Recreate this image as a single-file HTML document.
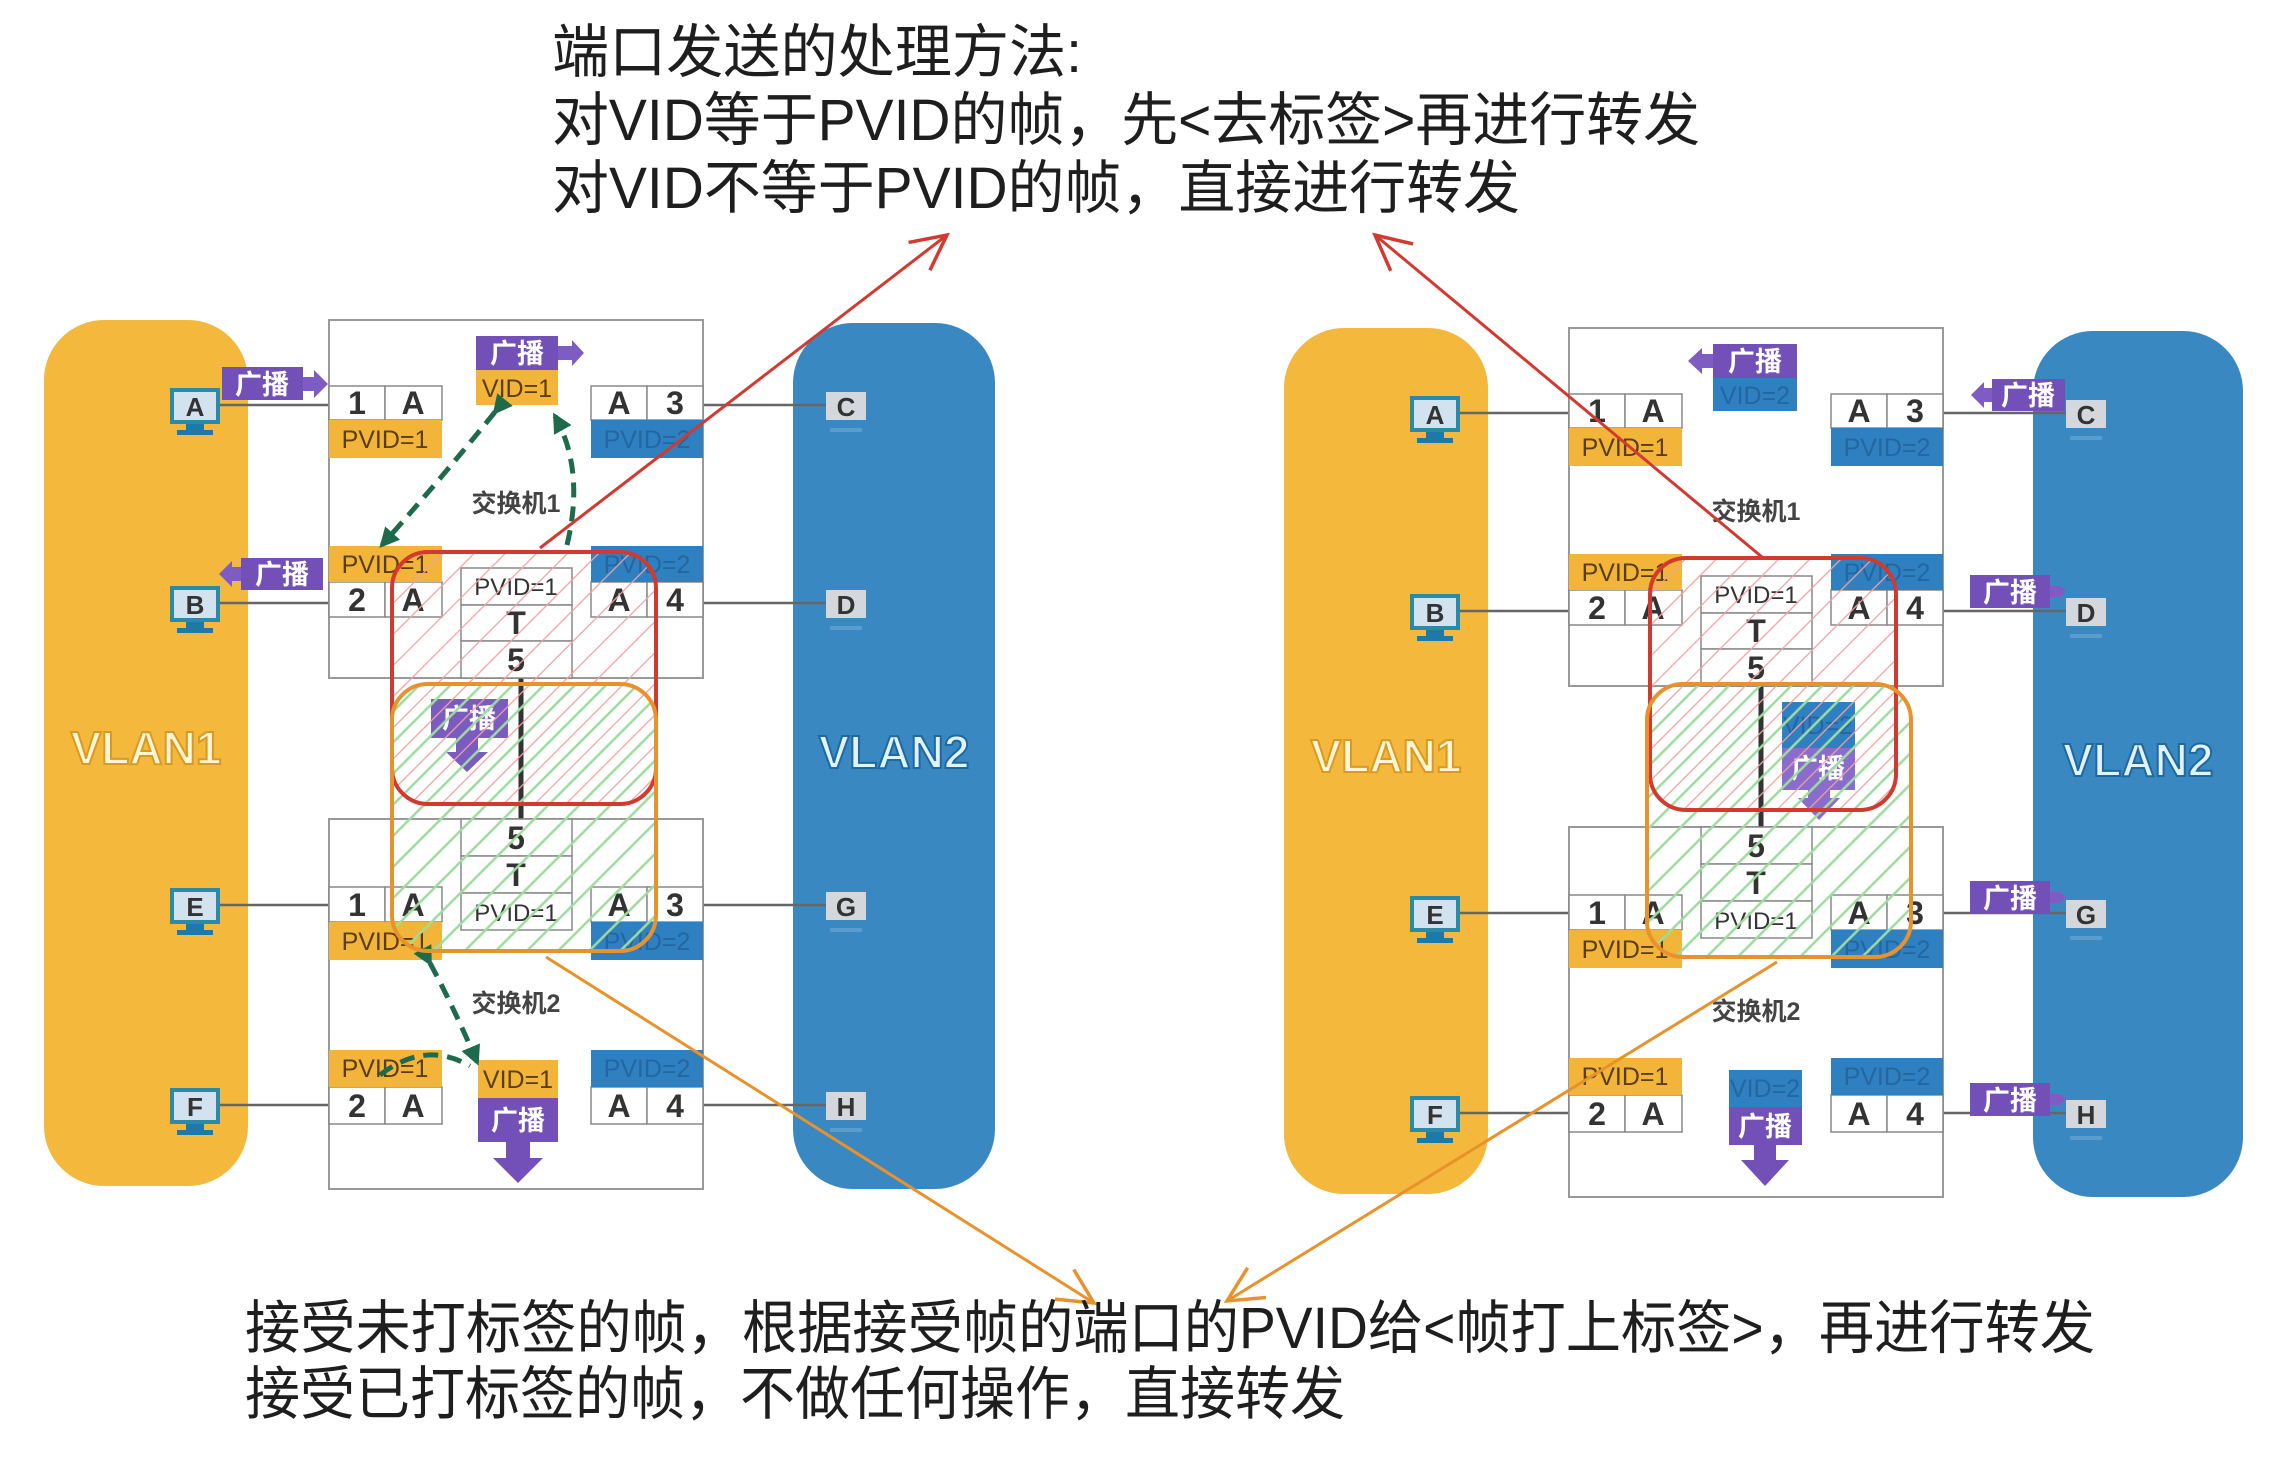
<!DOCTYPE html>
<html><head><meta charset="utf-8"><style>
html,body{margin:0;padding:0;background:#fff;}
svg{display:block;}
text{font-family:"Liberation Sans","Noto Sans CJK SC",sans-serif;}
.c{font-size:32px;font-weight:bold;fill:#333;text-anchor:middle;}
.py{font-size:25px;fill:#5a3e10;text-anchor:middle;}
.pb{font-size:25px;fill:#2466a0;text-anchor:middle;}
.pc{font-size:24px;fill:#333;text-anchor:middle;}
.bc{font-size:27px;font-weight:bold;fill:#fff;text-anchor:middle;}
.sw{font-size:25px;font-weight:bold;fill:#444;text-anchor:middle;}
.ml{font-size:26px;font-weight:bold;fill:#333;text-anchor:middle;}
.big{font-size:58px;fill:#1e1e1e;font-family:"Liberation Sans","Noto Sans CJK SC",sans-serif;}
</style></head><body>
<svg width="2278" height="1474" viewBox="0 0 2278 1474" xmlns="http://www.w3.org/2000/svg">
<defs>
<pattern id="hr" width="22" height="22" patternUnits="userSpaceOnUse" patternTransform="rotate(45)"><line x1="0" y1="0" x2="0" y2="22" stroke="#f3a0a0" stroke-width="2.5"/></pattern>
<pattern id="hg" width="22" height="22" patternUnits="userSpaceOnUse" patternTransform="rotate(45)"><line x1="11" y1="0" x2="11" y2="22" stroke="#9edc9e" stroke-width="2.5"/></pattern>
<marker id="ar" viewBox="0 0 12 12" markerWidth="42" markerHeight="42" refX="11" refY="6" orient="auto" markerUnits="userSpaceOnUse"><path d="M1,1 L11,6 L1,11" fill="none" stroke="#d23a30" stroke-width="1"/></marker>
<marker id="ao" viewBox="0 0 12 12" markerWidth="42" markerHeight="42" refX="11" refY="6" orient="auto" markerUnits="userSpaceOnUse"><path d="M1,1 L11,6 L1,11" fill="none" stroke="#e8922c" stroke-width="1"/></marker>
<marker id="ag" viewBox="0 0 10 10" markerWidth="20" markerHeight="20" refX="8" refY="5" orient="auto" markerUnits="userSpaceOnUse"><path d="M0,0 L10,5 L0,10 Z" fill="#1d6b4a"/></marker>
</defs>

<!-- ================= LEFT DIAGRAM ================= -->
<g>
<rect x="44" y="320" width="204" height="866" rx="60" fill="#f4b83c"/>
<text x="146" y="764" font-size="46" font-weight="bold" fill="#fff6d8" stroke="#d99a22" stroke-width="2" text-anchor="middle">VLAN1</text>
<rect x="793" y="323" width="202" height="866" rx="60" fill="#3a88c2"/>
<text x="894" y="768" font-size="46" font-weight="bold" fill="#e2f2ff" stroke="#1e6aa0" stroke-width="2" text-anchor="middle">VLAN2</text>

<g stroke="#666" stroke-width="2.5">
<line x1="219" y1="405" x2="329" y2="405"/><line x1="219" y1="603" x2="329" y2="603"/>
<line x1="219" y1="905" x2="329" y2="905"/><line x1="219" y1="1105" x2="329" y2="1105"/>
<line x1="703" y1="405" x2="828" y2="405"/><line x1="703" y1="603" x2="828" y2="603"/>
<line x1="703" y1="905" x2="828" y2="905"/><line x1="703" y1="1105" x2="828" y2="1105"/>
</g>
<g>
<rect x="172" y="390" width="46" height="32" fill="#d2e2ee" stroke="#2a8aa8" stroke-width="4"/><text x="195" y="416" class="ml">A</text><rect x="186" y="424" width="18" height="6" fill="#1e78a8"/><rect x="177" y="430" width="36" height="5" fill="#1e78a8"/>
<rect x="172" y="588" width="46" height="32" fill="#d2e2ee" stroke="#2a8aa8" stroke-width="4"/><text x="195" y="614" class="ml">B</text><rect x="186" y="622" width="18" height="6" fill="#1e78a8"/><rect x="177" y="628" width="36" height="5" fill="#1e78a8"/>
<rect x="172" y="890" width="46" height="32" fill="#d2e2ee" stroke="#2a8aa8" stroke-width="4"/><text x="195" y="916" class="ml">E</text><rect x="186" y="924" width="18" height="6" fill="#1e78a8"/><rect x="177" y="930" width="36" height="5" fill="#1e78a8"/>
<rect x="172" y="1090" width="46" height="32" fill="#d2e2ee" stroke="#2a8aa8" stroke-width="4"/><text x="195" y="1116" class="ml">F</text><rect x="186" y="1124" width="18" height="6" fill="#1e78a8"/><rect x="177" y="1130" width="36" height="5" fill="#1e78a8"/>
</g>
<g>
<rect x="826" y="392" width="40" height="28" fill="#d4d8dc"/><text x="846" y="416" class="ml" fill="#444">C</text><rect x="830" y="428" width="32" height="4" fill="#5a9ccc"/>
<rect x="826" y="590" width="40" height="28" fill="#d4d8dc"/><text x="846" y="614" class="ml" fill="#444">D</text><rect x="830" y="626" width="32" height="4" fill="#5a9ccc"/>
<rect x="826" y="892" width="40" height="28" fill="#d4d8dc"/><text x="846" y="916" class="ml" fill="#444">G</text><rect x="830" y="928" width="32" height="4" fill="#5a9ccc"/>
<rect x="826" y="1092" width="40" height="28" fill="#d4d8dc"/><text x="846" y="1116" class="ml" fill="#444">H</text><rect x="830" y="1128" width="32" height="4" fill="#5a9ccc"/>
</g>

<rect x="329" y="320" width="374" height="358" fill="#fff" stroke="#999" stroke-width="2"/>
<rect x="329" y="819" width="374" height="370" fill="#fff" stroke="#999" stroke-width="2"/>
<text x="516" y="512" class="sw">交换机1</text>
<text x="516" y="1012" class="sw">交换机2</text>
<line x1="521" y1="678" x2="521" y2="819" stroke="#333" stroke-width="5"/>

<g stroke="#888" stroke-width="1.5" fill="#fff">
<rect x="329" y="386" width="56" height="34"/><rect x="385" y="386" width="57" height="34"/>
<rect x="591" y="386" width="56" height="34"/><rect x="647" y="386" width="56" height="34"/>
<rect x="329" y="582" width="56" height="35"/><rect x="385" y="582" width="57" height="35"/>
<rect x="591" y="582" width="56" height="35"/><rect x="647" y="582" width="56" height="35"/>
<rect x="461" y="568" width="111" height="37"/><rect x="461" y="605" width="111" height="36"/><rect x="461" y="641" width="111" height="37"/>
<rect x="461" y="819" width="111" height="37"/><rect x="461" y="856" width="111" height="37"/><rect x="461" y="893" width="111" height="37"/>
<rect x="329" y="887" width="56" height="35"/><rect x="385" y="887" width="57" height="35"/>
<rect x="591" y="887" width="56" height="35"/><rect x="647" y="887" width="56" height="35"/>
<rect x="329" y="1087" width="56" height="37"/><rect x="385" y="1087" width="57" height="37"/>
<rect x="591" y="1087" width="56" height="37"/><rect x="647" y="1087" width="56" height="37"/>
</g>
<g>
<rect x="329" y="420" width="113" height="38" fill="#f3b43a"/><text x="385" y="448" class="py">PVID=1</text>
<rect x="591" y="420" width="112" height="38" fill="#2f80c0"/><text x="647" y="448" class="pb">PVID=2</text>
<rect x="329" y="546" width="113" height="36" fill="#f3b43a"/><text x="385" y="573" class="py">PVID=1</text>
<rect x="591" y="546" width="112" height="36" fill="#2f80c0"/><text x="647" y="573" class="pb">PVID=2</text>
<rect x="329" y="922" width="113" height="38" fill="#f3b43a"/><text x="385" y="950" class="py">PVID=1</text>
<rect x="591" y="922" width="112" height="38" fill="#2f80c0"/><text x="647" y="950" class="pb">PVID=2</text>
<rect x="329" y="1050" width="113" height="37" fill="#f3b43a"/><text x="385" y="1077" class="py">PVID=1</text>
<rect x="591" y="1050" width="112" height="37" fill="#2f80c0"/><text x="647" y="1077" class="pb">PVID=2</text>
</g>
<g>
<text x="357" y="414" class="c">1</text><text x="413" y="414" class="c">A</text><text x="619" y="414" class="c">A</text><text x="675" y="414" class="c">3</text>
<text x="357" y="611" class="c">2</text><text x="413" y="611" class="c">A</text><text x="619" y="611" class="c">A</text><text x="675" y="611" class="c">4</text>
<text x="357" y="916" class="c">1</text><text x="413" y="916" class="c">A</text><text x="619" y="916" class="c">A</text><text x="675" y="916" class="c">3</text>
<text x="357" y="1117" class="c">2</text><text x="413" y="1117" class="c">A</text><text x="619" y="1117" class="c">A</text><text x="675" y="1117" class="c">4</text>
<text x="516" y="595" class="pc">PVID=1</text><text x="516" y="634" class="c">T</text><text x="516" y="671" class="c">5</text>
<text x="516" y="849" class="c">5</text><text x="516" y="886" class="c">T</text><text x="516" y="921" class="pc">PVID=1</text>
</g>

<rect x="476" y="336" width="82" height="34" fill="#7250b8"/><text x="517" y="363" class="bc">广播</text>
<path d="M558,346 L572,346 L572,340 L584,353 L572,366 L572,360 L558,360 Z" fill="#7e5cc4"/>
<rect x="476" y="370" width="82" height="35" fill="#f3b43a"/><text x="517" y="397" class="py">VID=1</text>
<rect x="222" y="367" width="81" height="33" fill="#7250b8"/><text x="262" y="394" class="bc">广播</text>
<path d="M303,377 L314,377 L314,370 L328,384 L314,398 L314,391 L303,391 Z" fill="#7e5cc4"/>
<rect x="241" y="558" width="82" height="32" fill="#7250b8"/><text x="282" y="584" class="bc">广播</text>
<path d="M241,567 L232,567 L232,561 L219,574 L232,587 L232,581 L241,581 Z" fill="#7e5cc4"/>
<rect x="431" y="699" width="77" height="39" fill="#7a5cc0"/><text x="469" y="728" class="bc">广播</text>
<path d="M456,738 L478,738 L478,752 L488,752 L467,772 L446,752 L456,752 Z" fill="#7a5cc0"/>
<rect x="478" y="1060" width="80" height="38" fill="#f3b43a"/><text x="518" y="1088" class="py">VID=1</text>
<rect x="478" y="1098" width="80" height="44" fill="#7250b8"/><text x="518" y="1130" class="bc">广播</text>
<path d="M506,1142 L530,1142 L530,1158 L543,1158 L518,1183 L493,1158 L506,1158 Z" fill="#7250b8"/>

<g fill="none" stroke="#1d6b4a" stroke-width="5" stroke-dasharray="15 9">
<path d="M495,412 Q440,480 382,545" marker-start="url(#ag)" marker-end="url(#ag)"/>
<path d="M567,545 Q585,470 555,416" marker-end="url(#ag)"/>
<path d="M430,963 Q455,1010 477,1062" marker-start="url(#ag)" marker-end="url(#ag)"/>
<path d="M380,1075 Q425,1040 470,1066"/>
</g>

<rect x="392" y="552" width="264" height="252" rx="36" fill="url(#hr)"/>
<rect x="392" y="684" width="264" height="267" rx="36" fill="url(#hg)"/>
<rect x="392" y="552" width="264" height="252" rx="36" fill="none" stroke="#d23a30" stroke-width="4"/>
<rect x="392" y="684" width="264" height="267" rx="36" fill="none" stroke="#e8922c" stroke-width="4"/>
</g>

<!-- ================= RIGHT DIAGRAM ================= -->
<g transform="translate(1240,8)">
<rect x="44" y="320" width="204" height="866" rx="60" fill="#f4b83c"/>
<text x="146" y="764" font-size="46" font-weight="bold" fill="#fff6d8" stroke="#d99a22" stroke-width="2" text-anchor="middle">VLAN1</text>
<rect x="793" y="323" width="210" height="866" rx="60" fill="#3a88c2"/>
<text x="898" y="768" font-size="46" font-weight="bold" fill="#e2f2ff" stroke="#1e6aa0" stroke-width="2" text-anchor="middle">VLAN2</text>
<g stroke="#666" stroke-width="2.5">
<line x1="219" y1="405" x2="329" y2="405"/><line x1="219" y1="603" x2="329" y2="603"/>
<line x1="219" y1="905" x2="329" y2="905"/><line x1="219" y1="1105" x2="329" y2="1105"/>
<line x1="703" y1="405" x2="828" y2="405"/><line x1="703" y1="603" x2="828" y2="603"/>
<line x1="703" y1="905" x2="828" y2="905"/><line x1="703" y1="1105" x2="828" y2="1105"/>
</g>
<g>
<rect x="172" y="390" width="46" height="32" fill="#d2e2ee" stroke="#2a8aa8" stroke-width="4"/><text x="195" y="416" class="ml">A</text><rect x="186" y="424" width="18" height="6" fill="#1e78a8"/><rect x="177" y="430" width="36" height="5" fill="#1e78a8"/>
<rect x="172" y="588" width="46" height="32" fill="#d2e2ee" stroke="#2a8aa8" stroke-width="4"/><text x="195" y="614" class="ml">B</text><rect x="186" y="622" width="18" height="6" fill="#1e78a8"/><rect x="177" y="628" width="36" height="5" fill="#1e78a8"/>
<rect x="172" y="890" width="46" height="32" fill="#d2e2ee" stroke="#2a8aa8" stroke-width="4"/><text x="195" y="916" class="ml">E</text><rect x="186" y="924" width="18" height="6" fill="#1e78a8"/><rect x="177" y="930" width="36" height="5" fill="#1e78a8"/>
<rect x="172" y="1090" width="46" height="32" fill="#d2e2ee" stroke="#2a8aa8" stroke-width="4"/><text x="195" y="1116" class="ml">F</text><rect x="186" y="1124" width="18" height="6" fill="#1e78a8"/><rect x="177" y="1130" width="36" height="5" fill="#1e78a8"/>
</g>
<g>
<rect x="826" y="392" width="40" height="28" fill="#d4d8dc"/><text x="846" y="416" class="ml" fill="#444">C</text><rect x="830" y="428" width="32" height="4" fill="#5a9ccc"/>
<rect x="826" y="590" width="40" height="28" fill="#d4d8dc"/><text x="846" y="614" class="ml" fill="#444">D</text><rect x="830" y="626" width="32" height="4" fill="#5a9ccc"/>
<rect x="826" y="892" width="40" height="28" fill="#d4d8dc"/><text x="846" y="916" class="ml" fill="#444">G</text><rect x="830" y="928" width="32" height="4" fill="#5a9ccc"/>
<rect x="826" y="1092" width="40" height="28" fill="#d4d8dc"/><text x="846" y="1116" class="ml" fill="#444">H</text><rect x="830" y="1128" width="32" height="4" fill="#5a9ccc"/>
</g>
<rect x="329" y="320" width="374" height="358" fill="#fff" stroke="#999" stroke-width="2"/>
<rect x="329" y="819" width="374" height="370" fill="#fff" stroke="#999" stroke-width="2"/>
<text x="516" y="512" class="sw">交换机1</text>
<text x="516" y="1012" class="sw">交换机2</text>
<line x1="521" y1="678" x2="521" y2="819" stroke="#333" stroke-width="5"/>
<g stroke="#888" stroke-width="1.5" fill="#fff">
<rect x="329" y="386" width="56" height="34"/><rect x="385" y="386" width="57" height="34"/>
<rect x="591" y="386" width="56" height="34"/><rect x="647" y="386" width="56" height="34"/>
<rect x="329" y="582" width="56" height="35"/><rect x="385" y="582" width="57" height="35"/>
<rect x="591" y="582" width="56" height="35"/><rect x="647" y="582" width="56" height="35"/>
<rect x="461" y="568" width="111" height="37"/><rect x="461" y="605" width="111" height="36"/><rect x="461" y="641" width="111" height="37"/>
<rect x="461" y="819" width="111" height="37"/><rect x="461" y="856" width="111" height="37"/><rect x="461" y="893" width="111" height="37"/>
<rect x="329" y="887" width="56" height="35"/><rect x="385" y="887" width="57" height="35"/>
<rect x="591" y="887" width="56" height="35"/><rect x="647" y="887" width="56" height="35"/>
<rect x="329" y="1087" width="56" height="37"/><rect x="385" y="1087" width="57" height="37"/>
<rect x="591" y="1087" width="56" height="37"/><rect x="647" y="1087" width="56" height="37"/>
</g>
<g>
<rect x="329" y="420" width="113" height="38" fill="#f3b43a"/><text x="385" y="448" class="py">PVID=1</text>
<rect x="591" y="420" width="112" height="38" fill="#2f80c0"/><text x="647" y="448" class="pb">PVID=2</text>
<rect x="329" y="546" width="113" height="36" fill="#f3b43a"/><text x="385" y="573" class="py">PVID=1</text>
<rect x="591" y="546" width="112" height="36" fill="#2f80c0"/><text x="647" y="573" class="pb">PVID=2</text>
<rect x="329" y="922" width="113" height="38" fill="#f3b43a"/><text x="385" y="950" class="py">PVID=1</text>
<rect x="591" y="922" width="112" height="38" fill="#2f80c0"/><text x="647" y="950" class="pb">PVID=2</text>
<rect x="329" y="1050" width="113" height="37" fill="#f3b43a"/><text x="385" y="1077" class="py">PVID=1</text>
<rect x="591" y="1050" width="112" height="37" fill="#2f80c0"/><text x="647" y="1077" class="pb">PVID=2</text>
</g>
<g>
<text x="357" y="414" class="c">1</text><text x="413" y="414" class="c">A</text><text x="619" y="414" class="c">A</text><text x="675" y="414" class="c">3</text>
<text x="357" y="611" class="c">2</text><text x="413" y="611" class="c">A</text><text x="619" y="611" class="c">A</text><text x="675" y="611" class="c">4</text>
<text x="357" y="916" class="c">1</text><text x="413" y="916" class="c">A</text><text x="619" y="916" class="c">A</text><text x="675" y="916" class="c">3</text>
<text x="357" y="1117" class="c">2</text><text x="413" y="1117" class="c">A</text><text x="619" y="1117" class="c">A</text><text x="675" y="1117" class="c">4</text>
<text x="516" y="595" class="pc">PVID=1</text><text x="516" y="634" class="c">T</text><text x="516" y="671" class="c">5</text>
<text x="516" y="849" class="c">5</text><text x="516" y="886" class="c">T</text><text x="516" y="921" class="pc">PVID=1</text>
</g>
<rect x="473" y="336" width="84" height="34" fill="#7250b8"/><text x="515" y="363" class="bc">广播</text>
<path d="M473,346 L462,346 L462,340 L448,353 L462,366 L462,360 L473,360 Z" fill="#7e5cc4"/>
<rect x="473" y="370" width="84" height="33" fill="#2f80c0"/><text x="515" y="396" class="pb">VID=2</text>
<rect x="752" y="371" width="73" height="32" fill="#7250b8"/><text x="788" y="397" class="bc">广播</text>
<path d="M752,380 L744,380 L744,374 L731,387 L744,400 L744,394 L752,394 Z" fill="#7e5cc4"/>
<rect x="730" y="567" width="80" height="33" fill="#7250b8"/><text x="770" y="594" class="bc">广播</text>
<path d="M810,578 L820,578 L826,583 L820,589 L810,589 Z" fill="#7e5cc4"/>
<rect x="730" y="873" width="80" height="33" fill="#7250b8"/><text x="770" y="900" class="bc">广播</text>
<path d="M810,884 L820,884 L826,889 L820,895 L810,895 Z" fill="#7e5cc4"/>
<rect x="730" y="1075" width="80" height="33" fill="#7250b8"/><text x="770" y="1102" class="bc">广播</text>
<path d="M810,1086 L820,1086 L826,1091 L820,1097 L810,1097 Z" fill="#7e5cc4"/>
<rect x="542" y="694" width="73" height="46" fill="#2f80c0"/><text x="578" y="726" class="pb">VID=2</text>
<rect x="542" y="740" width="73" height="42" fill="#8a6ccc"/><text x="578" y="770" class="bc">广播</text>
<path d="M568,782 L590,782 L590,790 L600,790 L579,812 L558,790 L568,790 Z" fill="#8a6ccc"/>
<rect x="489" y="1062" width="73" height="37" fill="#2f80c0"/><text x="525" y="1089" class="pb">VID=2</text>
<rect x="489" y="1099" width="73" height="38" fill="#7250b8"/><text x="525" y="1128" class="bc">广播</text>
<path d="M514,1137 L536,1137 L536,1152 L549,1152 L525,1178 L501,1152 L514,1152 Z" fill="#7250b8"/>
<rect x="410" y="550" width="246" height="252" rx="36" fill="url(#hr)"/>
<rect x="407" y="676" width="264" height="273" rx="36" fill="url(#hg)"/>
<rect x="410" y="550" width="246" height="252" rx="36" fill="none" stroke="#d23a30" stroke-width="4"/>
<rect x="407" y="676" width="264" height="273" rx="36" fill="none" stroke="#e8922c" stroke-width="4"/>
</g>

<line x1="540" y1="548" x2="947" y2="235" stroke="#d23a30" stroke-width="3" marker-end="url(#ar)"/>
<line x1="1762" y1="557" x2="1375" y2="235" stroke="#d23a30" stroke-width="3" marker-end="url(#ar)"/>
<line x1="546" y1="957" x2="1094" y2="1303" stroke="#e8922c" stroke-width="3" marker-end="url(#ao)"/>
<line x1="1777" y1="962" x2="1227" y2="1301" stroke="#e8922c" stroke-width="3" marker-end="url(#ao)"/>

<text x="552" y="72" class="big" textLength="530" lengthAdjust="spacingAndGlyphs">端口发送的处理方法:</text>
<text x="552" y="140" class="big" textLength="1148" lengthAdjust="spacingAndGlyphs">对VID等于PVID的帧，先&lt;去标签&gt;再进行转发</text>
<text x="552" y="208" class="big" textLength="968" lengthAdjust="spacingAndGlyphs">对VID不等于PVID的帧，直接进行转发</text>
<text x="245" y="1348" class="big" textLength="1850" lengthAdjust="spacingAndGlyphs">接受未打标签的帧，根据接受帧的端口的PVID给&lt;帧打上标签&gt;，再进行转发</text>
<text x="245" y="1414" class="big" textLength="1100" lengthAdjust="spacingAndGlyphs">接受已打标签的帧，不做任何操作，直接转发</text>
</svg>
</body></html>
